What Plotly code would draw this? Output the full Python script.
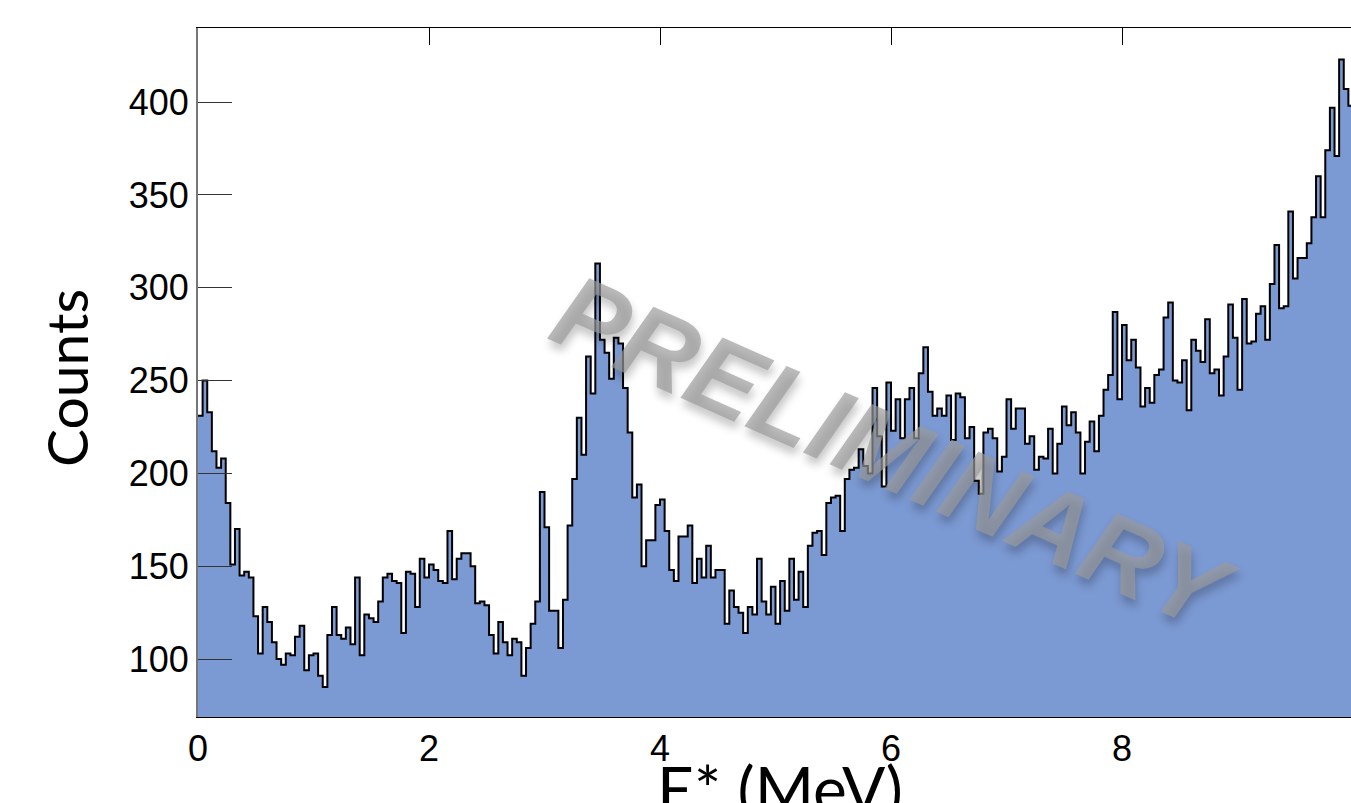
import plotly.graph_objects as go

# Histogram data: E* bins of 0.04 MeV from 0 to 10 MeV
bin_width = 0.04
counts = [
    231, 250, 233, 212, 203, 208, 184, 151, 170, 145,
    147, 144, 123, 103, 128, 120, 109, 100, 97, 103,
    102, 112, 118, 94, 102, 103, 91, 85, 113, 128,
    113, 111, 117, 108, 144, 102, 124, 122, 120, 131,
    144, 146, 142, 141, 114, 147, 146, 128, 154, 144,
    151, 148, 142, 141, 169, 143, 154, 157, 157, 150,
    130, 131, 129, 113, 103, 120, 109, 102, 111, 109,
    91, 106, 119, 131, 190, 171, 126, 126, 106, 132,
    172, 197, 230, 210, 263, 243, 313, 272, 265, 251,
    273, 270, 246, 222, 187, 194, 150, 164, 164, 183,
    186, 169, 148, 142, 166, 166, 172, 141, 154, 144,
    161, 144, 148, 148, 119, 137, 128, 125, 114, 128,
    124, 154, 131, 124, 139, 119, 142, 126, 154, 132,
    147, 128, 161, 168, 169, 156, 184, 187, 188, 169,
    197, 202, 203, 213, 204, 200, 246, 220, 193, 249,
    223, 240, 219, 240, 246, 219, 254, 268, 244, 231,
    235, 231, 242, 218, 243, 241, 219, 225, 196, 189,
    222, 224, 219, 201, 209, 240, 224, 235, 235, 216,
    220, 202, 209, 208, 224, 200, 216, 236, 226, 233,
    222, 200, 217, 228, 212, 231, 245, 253, 287, 240,
    280, 261, 272, 257, 236, 246, 238, 253, 256, 284,
    292, 250, 249, 261, 234, 272, 266, 260, 283, 254,
    256, 242, 263, 291, 273, 245, 294, 270, 271, 286,
    290, 272, 302, 323, 289, 290, 341, 305, 316, 316,
    324, 338, 360, 338, 374, 397, 371, 423, 407, 398,
]
x_ticks = [0, 2, 4, 6, 8, 10]
y_ticks = [100, 150, 200, 250, 300, 350, 400]
x_title = "E* (MeV)"
y_title = "Counts"
watermark = "PRELIMINARY"

edges = [i * bin_width for i in range(len(counts) + 1)]
step_y = counts + [counts[-1]]

fig = go.Figure()
fig.add_trace(go.Scatter(
    x=edges, y=step_y,
    mode="lines",
    line=dict(shape="hv", color="black", width=2),
    fill="tozeroy",
    fillcolor="rgb(123,153,211)",
    hoverinfo="skip",
    showlegend=False,
))

W, H = 1351, 803
ml, mr, mt, mb = 198, 0, 28, 86
pw, ph = W - ml - mr, H - mt - mb
px_per_unit = 115.5
x_max = pw / px_per_unit

tick_font = dict(family="Liberation Sans, Arial, sans-serif", size=36, color="black")
title_font = dict(family="Lato, Open Sans, sans-serif", color="black")

fig.update_layout(
    width=W, height=H,
    margin=dict(l=ml, r=mr, t=mt, b=mb),
    paper_bgcolor="white",
    plot_bgcolor="white",
    showlegend=False,
    xaxis=dict(
        range=[0, x_max],
        tickvals=x_ticks,
        ticktext=[str(v) for v in x_ticks],
        ticks="inside", ticklen=17, tickwidth=1, tickcolor="black",
        showline=True, linecolor="black", linewidth=1, mirror="ticks",
        showgrid=False, zeroline=False,
        layer="below traces",
        ticklabelstandoff=0,
        tickfont=tick_font,
    ),
    yaxis=dict(
        range=[68.8, 439.9],
        tickvals=y_ticks,
        ticks="inside", ticklen=34, tickwidth=1, tickcolor="#333333",
        showline=True, linecolor="#777777", linewidth=2,
        showgrid=False, zeroline=False,
        layer="above traces",
        ticklabelstandoff=0,
        tickfont=tick_font,
    ),
    annotations=[
        dict(text=y_title, xref="paper", yref="paper", x=0, y=(717 - 378) / ph,
             xanchor="center", yanchor="middle", textangle=-90, showarrow=False,
             xshift=66 - ml,
             font=dict(title_font, size=57)),
        dict(text=x_title, xref="paper", yref="paper", x=(780 - ml) / pw, y=0,
             xanchor="center", yanchor="top", showarrow=False,
             yshift=-31,
             font=dict(title_font, size=64)),
        dict(text=watermark, xref="paper", yref="paper",
             x=(893 - ml) / pw, y=(717 - 452) / ph,
             xanchor="center", yanchor="middle", textangle=24, showarrow=False,
             font=dict(family="Liberation Sans, Arial, sans-serif", size=105,
                       color="rgba(155,155,155,0.68)", weight="bold", style="italic",
                       shadow="4px 6px 8px rgba(0,0,0,0.33)")),
    ],
)

fig.write_html(
    "out.html",
    config={"displayModeBar": False},
    post_script="document.body.style.margin='0';document.body.style.overflow='hidden';",
)
